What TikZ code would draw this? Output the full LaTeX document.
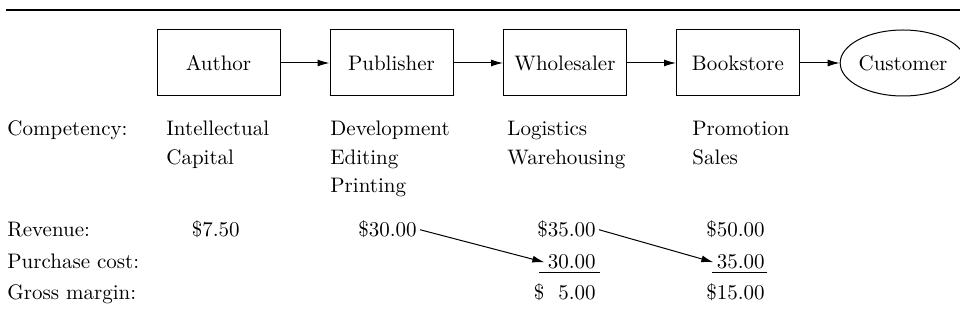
\documentclass[tikz,border=0pt]{standalone}
\usepackage{tikz}
\usetikzlibrary{calc,arrows.meta,shapes.geometric}
\tikzset{
	firm/.style={draw, line width=0.5pt, minimum width=61.5pt, minimum height=33pt, inner sep=0pt},
	buyer/.style={draw, ellipse, line width=0.5pt, minimum width=56pt, minimum height=33pt, inner sep=0pt},
	flow/.style={line width=0.5pt, -{Latex[length=6pt,width=3.5pt]}},
	txt/.style={inner sep=0pt, anchor=base west},
	amt/.style={inner sep=0pt, anchor=base east}
}

\begin{document}
\begin{tikzpicture}[x=0.5pt, y=-0.5pt, font=\fontsize{10.5}{12.6}\selectfont]
			%%%%% START %%%%%
			\useasboundingbox (0, 0) rectangle (960, 325);
			
			\draw[line width=0.7pt] (6, 10) -- (960, 10);
			
			\node[firm] (author) at (218.5, 63) {Author};
			\node[firm] (publisher) at (391.5, 63) {Publisher};
			\node[firm] (wholesaler) at (565, 63) {Wholesaler};
			\node[firm] (bookstore) at (738, 63) {Bookstore};
			\node[buyer] (customer) at (903, 63) {Customer};
			
			\draw[flow] (author) -- (publisher);
			\draw[flow] (publisher) -- (wholesaler);
			\draw[flow] (wholesaler) -- (bookstore);
			\draw[flow] (bookstore) -- (customer);
			
			\node[txt] (comp) at (7, 136) {Competency:};
			\node[txt] at (166, 136) {Intellectual};
			\node[txt] at (166, 164.5) {Capital};
			\node[txt] at (330, 136) {Development};
			\node[txt] at (330, 164.5) {Editing};
			\node[txt] at (330, 193) {Printing};
			\node[txt] at (507, 136) {Logistics};
			\node[txt] at (507, 164.5) {Warehousing};
			\node[txt] at (692, 136) {Promotion};
			\node[txt] at (692, 164.5) {Sales};
			
			\node[txt] (rev) at (7, 237) {Revenue:};
			\node[txt] (pc) at (7, 269) {Purchase cost:};
			\node[txt] (gm) at (7, 300) {Gross margin:};
			
			\node[amt] (rev1) at (240, 237) {\$7.50};
			\node[amt] (rev2) at (417, 237) {\$30.00};
			\node[amt] (rev3) at (596, 237) {\$35.00};
			\node[amt] (rev4) at (765, 237) {\$50.00};
			\node[amt] (pc3) at (596, 269) {30.00};
			\node[amt] (pc4) at (765, 269) {35.00};
			\node[amt] (gm3) at (596, 300) {\$\ \ 5.00};
			\node[amt] (gm4) at (765, 300) {\$15.00};
			
			\draw[line width=0.5pt] ($(pc3.base east)+(4, 4)$) -- ++(-61, 0);
			\draw[line width=0.5pt] ($(pc4.base east)+(2, 4)$) -- ++(-55, 0);
			
			\draw[flow] ($(rev2.east)+(3, 0)$) -- ($(pc3.west)+(-3, 0)$);
			\draw[flow] ($(rev3.east)+(3, 0)$) -- ($(pc4.west)+(-3, 0)$);
			%%%%% END %%%%%
\end{tikzpicture}
\end{document}
